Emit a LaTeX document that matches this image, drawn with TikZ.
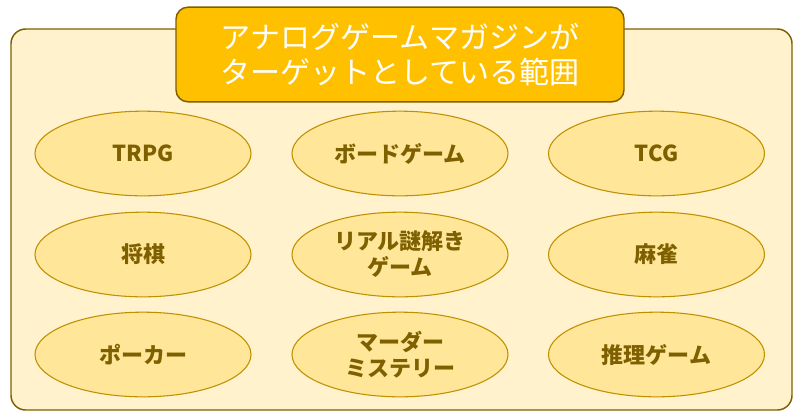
\documentclass[tikz,border=0pt]{standalone}
\usepackage{fontspec}
\newfontfamily\jpfont{Noto Sans CJK JP}
\definecolor{magframe}{RGB}{127, 96, 0}
\definecolor{magpaper}{RGB}{255, 242, 204}
\definecolor{maggold}{RGB}{255, 192, 0}
\definecolor{gamefill}{RGB}{255, 230, 153}
\definecolor{gameline}{RGB}{191, 144, 0}
\usetikzlibrary{shapes.geometric, positioning}
\tikzset{
    outerbox/.style={draw=magframe, fill=magpaper, line width=1.1pt, rounded corners=11pt},
    titlebox/.style={rectangle, rounded corners=9pt, draw=magframe, fill=maggold, line width=1.1pt,
                     minimum width=336pt, minimum height=71pt, align=center, text=white,
                     font=\jpfont\fontsize{22.5pt}{26.5pt}\selectfont},
    gamebox/.style={ellipse, draw=gameline, fill=gamefill, line width=0.8pt, inner sep=0pt,
                    minimum width=162pt, minimum height=63.5pt, align=center, text=magframe,
                    font=\jpfont\bfseries\fontsize{16.5pt}{19.5pt}\selectfont},
}
\begin{document}
\begin{tikzpicture}[x=0.75pt, y=-0.75pt]
            \useasboundingbox (0,0) rectangle (800,419);
            % Outer frame
            \draw[outerbox] (11,29) rectangle (792,410);
            \node[titlebox] (title) at (400,54.5) {アナログゲームマガジンが\\ターゲットとしている範囲};
            
            % Top row
            \node[gamebox] (trpg) at (143,153.5) {TRPG};
            \node[gamebox] (board) at (400,153.5) {ボードゲーム};
            \node[gamebox] (tcg) at (656.5,153.5) {TCG};
            
            % Middle row
            \node[gamebox] (shogi) at (143,254.5) {将棋};
            \node[gamebox] (nazo) at (400,254.5) {リアル謎解き\\ゲーム};
            \node[gamebox] (mahjong) at (656.5,254.5) {麻雀};
            
            % Bottom row
            \node[gamebox] (poker) at (143,354.5) {ポーカー};
            \node[gamebox] (murder) at (400,354.5) {マーダー\\ミステリー};
            \node[gamebox] (suiri) at (656.5,354.5) {推理ゲーム};
        \end{tikzpicture}
\end{document}
